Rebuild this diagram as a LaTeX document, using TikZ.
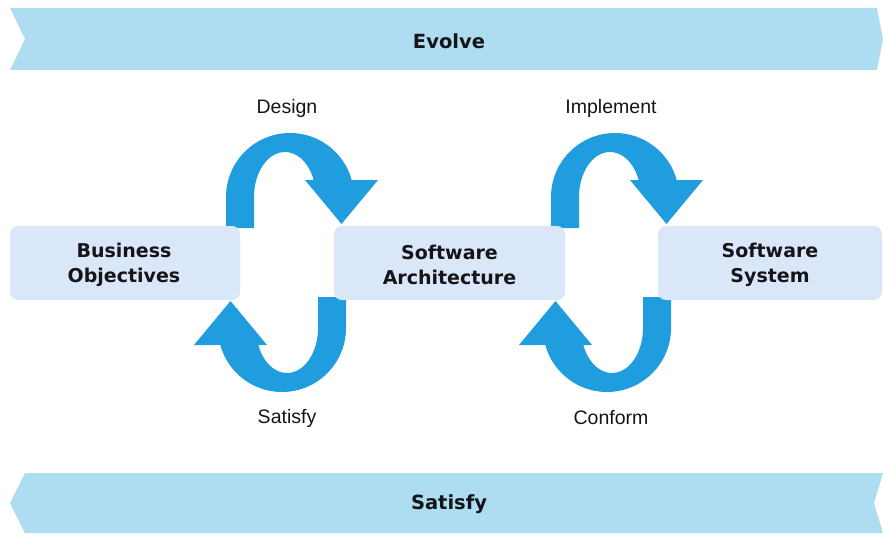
\documentclass[tikz,border=0pt]{standalone}
\usepackage{fontspec}
\setmainfont{Liberation Sans}
\newfontfamily\headfont{DejaVu Sans}
\definecolor{bannerblue}{RGB}{174,220,240}
\definecolor{boxblue}{RGB}{218,231,248}
\definecolor{arrowblue}{RGB}{31,157,222}
\definecolor{inkdark}{RGB}{20,20,25}
\tikzset{
  banner/.style={fill=bannerblue, draw=none},
  stagebox/.style={fill=boxblue, draw=none, rounded corners=8pt,
    minimum height=74pt, align=center, text=inkdark,
    font=\headfont\bfseries\fontsize{19}{25.5}\selectfont},
  bannertext/.style={text=inkdark, font=\headfont\bfseries\fontsize{19.5}{24}\selectfont},
  looplabel/.style={text=inkdark, font=\fontsize{19.5}{23}\selectfont},
  % U-turn arrow: round outer edge, narrower elliptical hole
  uturn/.pic={
    \fill[arrowblue] (226,228)
      -- plot[domain=180:344.6,samples=60] ({290+64*cos(\x)},{197+64*sin(\x)})
      -- (378,180) -- (341.5,224) -- (305,180)
      -- plot[domain=337.8:180,samples=60] ({285+31*cos(\x)},{197+45*sin(\x)})
      -- (254,228) -- cycle;
  }
}
\begin{document}
\begin{tikzpicture}[x=1pt,y=-1pt]
  \useasboundingbox (0,0) rectangle (883,535);

  % banners
  \fill[banner] (10,8) -- (877,8) -- (883,39) -- (877,70) -- (10,70) -- (25,39) -- cycle;
  \fill[banner] (25,473) -- (883,473) -- (874,503) -- (883,533) -- (25,533) -- (10,503) -- cycle;
  \node[bannertext] (evolve) at (449,41) {Evolve};
  \node[bannertext] (satisfyall) at (449,504) {Satisfy};

  % loop arrows
  \pic at (0,0) {uturn};
  \pic[rotate=180] at (572,525) {uturn};
  \pic at (325,0) {uturn};
  \pic[rotate=180] at (897,525) {uturn};

  % stage boxes
  \fill[boxblue, rounded corners=8pt] (10,226) rectangle (240,300);
  \fill[boxblue, rounded corners=8pt] (334,226) rectangle (565,300);
  \fill[boxblue, rounded corners=8pt] (658,226) rectangle (882,300);
  \node[stagebox, fill=none] (business) at (124,265) {Business\\Objectives};
  \node[stagebox, fill=none] (architecture) at (449.5,265) {Software\\Architecture};
  \node[stagebox, fill=none] (system) at (770,265) {Software\\System};

  % loop labels
  \node[looplabel] (design) at (287,108) {Design};
  \node[looplabel] (satisfy) at (287,418) {Satisfy};
  \node[looplabel] (implement) at (611,108) {Implement};
  \node[looplabel] (conform) at (611,418) {Conform};
\end{tikzpicture}
\end{document}
